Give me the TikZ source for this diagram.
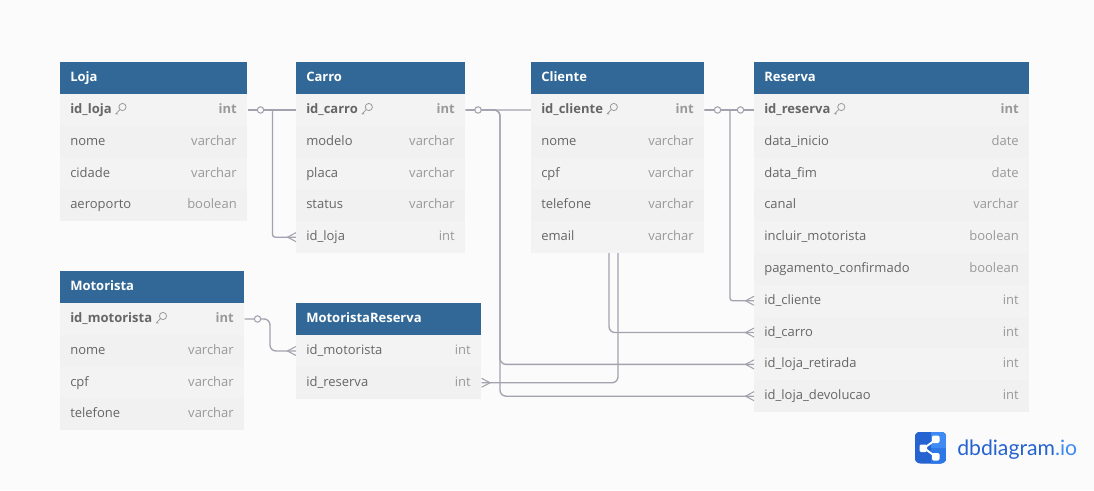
\documentclass[tikz,border=0pt]{standalone}
\usepackage{fontspec}
\setmainfont{Open Sans}
\newfontfamily\logofont{Lato}
\usetikzlibrary{calc}
\pgfdeclarelayer{back}
\pgfsetlayers{back,main}
\definecolor{pagebg}{HTML}{FBFBFB}
\definecolor{headblue}{HTML}{316897}
\definecolor{rowa}{HTML}{F3F3F3}
\definecolor{rowb}{HTML}{F1F1F1}
\definecolor{fieldc}{HTML}{666666}
\definecolor{typec}{HTML}{999999}
\definecolor{linec}{HTML}{A3A3AF}
\definecolor{logoa}{HTML}{2563D0}
\definecolor{logob}{HTML}{3F8BF3}
\definecolor{logoc}{HTML}{2E78E6}
\tikzset{
 x=0.75pt,y=-0.75pt,
 conn/.style={draw=linec,line width=1pt,rounded corners=4.5pt},
 crow/.style={draw=linec,line width=0.8pt,line join=miter},
 onecirc/.style={draw=linec,line width=0.8pt,fill=pagebg},
 headbox/.style={fill=headblue,draw=none,inner sep=0pt,anchor=north west},
 rowbox/.style={draw=none,inner sep=0pt,anchor=north west},
 headtxt/.style={inner sep=0pt,anchor=base west,text=white,font=\fontsize{9.75pt}{12pt}\selectfont\bfseries},
 keyicon/.style={draw=typec,line width=0.6pt},
 plain/.style={inner sep=0pt,anchor=base west,text=fieldc,font=\fontsize{9.75pt}{12pt}\selectfont},
 plaintype/.style={inner sep=0pt,anchor=base east,text=typec,font=\fontsize{9.75pt}{12pt}\selectfont},
 key/.style={inner sep=0pt,anchor=base west,text=fieldc,font=\fontsize{9.75pt}{12pt}\selectfont\bfseries},
 keytype/.style={inner sep=0pt,anchor=base east,text=typec,font=\fontsize{9.75pt}{12pt}\selectfont\bfseries},
}
% name, x, top, width, title
\newcommand{\tblhead}[5]{%
 \node[headbox,minimum width=#4*0.75pt,minimum height=31.8*0.75pt] (#1) at (#2,#3) {};
 \node[headtxt] (#1-title) at (#2+10,#3+19) {#5};
}
% name, x, table top, width, row index, field, type, row colour, field style
\newcommand{\tblrow}[9]{%
 \pgfmathsetmacro{\rowtop}{#3+31.8+31.8*#5}
 \node[rowbox,fill=#8,minimum width=#4*0.75pt,minimum height=31.8*0.75pt] (#1) at (#2,\rowtop) {};
 \node[#9] (#1-f) at (#2+10,\rowtop+19.6) {#6};
 \node[#9type] (#1-t) at (#2+#4-10,\rowtop+19.6) {#7};
}
\newcommand{\keymark}[1]{%
 \draw[keyicon] ($(#1-f.base east)+(10.6,-6.4)$) circle[radius=2.7pt];
 \draw[keyicon] ($(#1-f.base east)+(8,-3.8)$) -- ($(#1-f.base east)+(4,0.4)$) -- ($(#1-f.base east)+(6.2,0.6)$);
}
\newcommand{\crowin}[1]{% arrives at a west side
 \draw[crow] ($(#1.west)+(0,-4.5)$) -- ($(#1.west)+(-8.5,0)$) -- ($(#1.west)+(0,4.5)$);
}
\newcommand{\crowout}[1]{% arrives at an east side
 \draw[crow] ($(#1.east)+(0,-4.5)$) -- ($(#1.east)+(8.5,0)$) -- ($(#1.east)+(0,4.5)$);
}
\begin{document}
\begin{tikzpicture}
\useasboundingbox (0,0) rectangle (1094,490);
\begin{pgfonlayer}{back}
 \fill[pagebg] (0,0) rectangle (1094,490);
\end{pgfonlayer}

% Loja
\tblhead{loja}{60}{62}{187}{Loja}
\tblrow{lojaid}{60}{62}{187}{0}{id\_loja}{int}{rowa}{key}
\tblrow{lojanome}{60}{62}{187}{1}{nome}{varchar}{rowb}{plain}
\tblrow{lojacid}{60}{62}{187}{2}{cidade}{varchar}{rowa}{plain}
\tblrow{lojaaer}{60}{62}{187}{3}{aeroporto}{boolean}{rowb}{plain}
\keymark{lojaid}

% Carro
\tblhead{carro}{296}{62}{169}{Carro}
\tblrow{carroid}{296}{62}{169}{0}{id\_carro}{int}{rowa}{key}
\tblrow{carromod}{296}{62}{169}{1}{modelo}{varchar}{rowb}{plain}
\tblrow{carropla}{296}{62}{169}{2}{placa}{varchar}{rowa}{plain}
\tblrow{carrosta}{296}{62}{169}{3}{status}{varchar}{rowb}{plain}
\tblrow{carroloja}{296}{62}{169}{4}{id\_loja}{int}{rowa}{plain}
\keymark{carroid}

% Cliente
\tblhead{cliente}{531}{62}{173}{Cliente}
\tblrow{cliid}{531}{62}{173}{0}{id\_cliente}{int}{rowa}{key}
\tblrow{clinome}{531}{62}{173}{1}{nome}{varchar}{rowb}{plain}
\tblrow{clicpf}{531}{62}{173}{2}{cpf}{varchar}{rowa}{plain}
\tblrow{clitel}{531}{62}{173}{3}{telefone}{varchar}{rowb}{plain}
\tblrow{cliemail}{531}{62}{173}{4}{email}{varchar}{rowa}{plain}
\keymark{cliid}

% Reserva
\tblhead{reserva}{754}{62}{275}{Reserva}
\tblrow{resid}{754}{62}{275}{0}{id\_reserva}{int}{rowa}{key}
\tblrow{resini}{754}{62}{275}{1}{data\_inicio}{date}{rowb}{plain}
\tblrow{resfim}{754}{62}{275}{2}{data\_fim}{date}{rowa}{plain}
\tblrow{rescanal}{754}{62}{275}{3}{canal}{varchar}{rowb}{plain}
\tblrow{resinc}{754}{62}{275}{4}{incluir\_motorista}{boolean}{rowa}{plain}
\tblrow{respag}{754}{62}{275}{5}{pagamento\_confirmado}{boolean}{rowb}{plain}
\tblrow{rescli}{754}{62}{275}{6}{id\_cliente}{int}{rowa}{plain}
\tblrow{rescar}{754}{62}{275}{7}{id\_carro}{int}{rowb}{plain}
\tblrow{resret}{754}{62}{275}{8}{id\_loja\_retirada}{int}{rowa}{plain}
\tblrow{resdev}{754}{62}{275}{9}{id\_loja\_devolucao}{int}{rowb}{plain}
\keymark{resid}

% Motorista
\tblhead{motorista}{60}{271}{184}{Motorista}
\tblrow{motid}{60}{271}{184}{0}{id\_motorista}{int}{rowa}{key}
\tblrow{motnome}{60}{271}{184}{1}{nome}{varchar}{rowb}{plain}
\tblrow{motcpf}{60}{271}{184}{2}{cpf}{varchar}{rowa}{plain}
\tblrow{mottel}{60}{271}{184}{3}{telefone}{varchar}{rowb}{plain}
\keymark{motid}

% MotoristaReserva
\tblhead{motres}{296}{303}{185}{MotoristaReserva}
\tblrow{mrmot}{296}{303}{185}{0}{id\_motorista}{int}{rowa}{plain}
\tblrow{mrres}{296}{303}{185}{1}{id\_reserva}{int}{rowb}{plain}

% Connectors, behind the tables
\begin{pgfonlayer}{back}
 \draw[conn,rounded corners=1.5pt] (lojaid.east) -- (carroid.west);
 \coordinate (lojabus) at ($(lojaid.east)+(25,0)$);
 \draw[conn,rounded corners=2pt] (lojabus) -- (lojabus |- carroloja.west) -- (carroloja.west);
 \coordinate (busA) at (500,0);
 \draw[conn] (carroid.east) -- (busA |- carroid.east) -- (busA |- resret.west) -- (resret.west);
 \draw[conn] (carroid.east) -- (busA |- carroid.east) -- (busA |- resdev.west) -- (resdev.west);
 \coordinate (busB) at (609,0);
 \draw[conn] (carroid.east) -- (busB |- carroid.east) -- (busB |- rescar.west) -- (rescar.west);
 \coordinate (busC) at (618,0);
 \draw[conn] (resid.west) -- (busC |- resid.west) -- (busC |- mrres.east) -- (mrres.east);
 \coordinate (busD) at (730,0);
 \draw[conn] (cliid.east) -- (resid.west);
 \draw[conn,rounded corners=2pt] (busD |- cliid.east) -- (busD |- rescli.west) -- (rescli.west);
 \coordinate (busE) at (270,0);
 \draw[conn] (motid.east) -- (busE |- motid.east) -- (busE |- mrmot.west) -- (mrmot.west);
\end{pgfonlayer}
\crowin{resret}
\crowin{resdev}
\crowin{rescar}
\crowin{rescli}
\crowin{carroloja}
\crowin{mrmot}
\crowout{mrres}
\draw[onecirc] ($(lojaid.east)+(13,0)$) circle[radius=2.4pt];
\draw[onecirc] ($(carroid.east)+(12.5,0)$) circle[radius=2.4pt];
\draw[onecirc] ($(cliid.east)+(13,0)$) circle[radius=2.4pt];
\draw[onecirc] ($(resid.west)+(-13.5,0)$) circle[radius=2.4pt];
\draw[onecirc] ($(motid.east)+(13,0)$) circle[radius=2.4pt];

% Logo
\begin{scope}
 \clip[rounded corners=4.5pt] (914.5,431.5) rectangle (946.5,463.5);
 \fill[logoa] (914.5,431.5) rectangle (946.5,463.5);
 \fill[logoc] (930.5,447.5) rectangle (946.5,463.5);
 \fill[logob] (930.5,431.5) rectangle (946.5,447.5);
\end{scope}
\draw[white,line width=1.4pt] (936,439.5) -- (924,448) -- (936,457);
\fill[white,rounded corners=1pt] (919.5,444.5) rectangle (927,452);
\fill[white,rounded corners=1pt] (932,435.5) rectangle (939.5,443);
\fill[white,rounded corners=1pt] (932,453) rectangle (939.5,460.5);
\node[inner sep=0pt,anchor=base west,font=\logofont\fontsize{15.9pt}{18pt}\selectfont] (logotext) at (957,455) {\textcolor{logoa}{dbdiagram}\textcolor{logob}{.io}};
\end{tikzpicture}
\end{document}
